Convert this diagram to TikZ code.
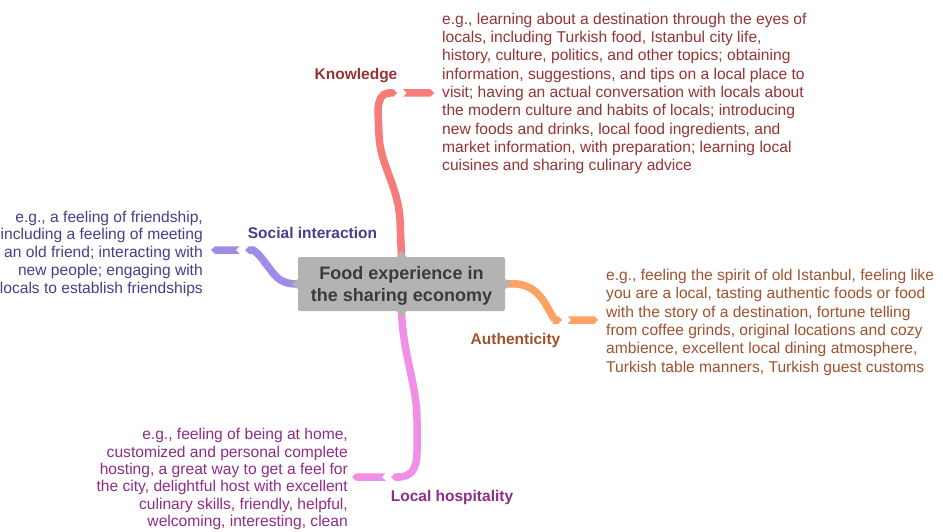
\documentclass[tikz,border=0pt]{standalone}
\usepackage{fontspec}
\setmainfont{Liberation Sans}
\usetikzlibrary{calc}
\usetikzlibrary{arrows.meta}

\definecolor{knowbranch}{HTML}{F77B78}
\definecolor{knowtext}{HTML}{963333}
\definecolor{socbranch}{HTML}{A08CE6}
\definecolor{soctext}{HTML}{483D8B}
\definecolor{authbranch}{HTML}{FBA264}
\definecolor{authtext}{HTML}{A0522D}
\definecolor{hospbranch}{HTML}{F08FE6}
\definecolor{hosptext}{HTML}{8E2C88}
\definecolor{hubfill}{HTML}{B3B3B3}
\definecolor{hubtext}{HTML}{3B3B3B}

\tikzset{
  desc/.style={inner sep=0pt, font=\fontsize{15.6}{#1}\selectfont},
  desc/.default=18.3,
  topic/.style={inner sep=0pt, anchor=base, font=\bfseries\fontsize{15.5}{18}\selectfont},
  branch/.style={line width=7.5pt, -{Triangle Cap[]}},
}

% tail of a branch, from #2 to #3, with a notch at #2 and a point at #3
\newcommand{\branchtail}[3]{%
  \fill[#1] let \p1=(#2), \p2=(#3), \n1={sign(\x2-\x1)*3.75} in
    (\x1,\y1+3.75pt) -- (\x2-\n1,\y1+3.75pt) -- (\x2,\y2) -- (\x2-\n1,\y2-3.75pt)
    -- (\x1,\y1-3.75pt) -- (\x1+\n1,\y1) -- cycle;}

\begin{document}
\begin{tikzpicture}[x=1pt, y=-1pt]
    \useasboundingbox (0,0) rectangle (943,532);

    \node[rectangle, rounded corners=2pt, fill=hubfill, text=hubtext, minimum width=207pt, minimum height=54pt,
          align=center, font=\bfseries\fontsize{18}{22}\selectfont] (hub) at (401.5,284)
          {\rule{0pt}{17pt}Food experience in\\the sharing economy};

    \coordinate (kn-c) at (397,93);
    \coordinate (kn-t) at (403,93);
    \coordinate (kn-e) at (434,93);
    \coordinate (soc-c) at (245,250);
    \coordinate (soc-t) at (239.5,250);
    \coordinate (soc-e) at (211,250);
    \coordinate (au-c) at (562,320);
    \coordinate (au-t) at (567.5,320);
    \coordinate (au-e) at (598,320);
    \coordinate (hosp-c) at (391,477);
    \coordinate (hosp-t) at (385.5,477);
    \coordinate (hosp-e) at (352,477);

    \draw[branch, knowbranch] (hub.north) -- (400,220) .. controls (398,185) and (380,165) .. (379,135)
        -- (378,112) .. controls (378,98) and (383,93) .. (kn-c);
    \branchtail{knowbranch}{kn-t}{kn-e}
    \draw[branch, socbranch] (hub.west) .. controls (278,284) and (275,275) .. (266,264)
        .. controls (259,254) and (254,250) .. (soc-c);
    \branchtail{socbranch}{soc-t}{soc-e}
    \draw[branch, authbranch] (hub.east) .. controls (528,282) and (537,291) .. (545,303)
        .. controls (551,314) and (555,320) .. (au-c);
    \branchtail{authbranch}{au-t}{au-e}
    \draw[branch, hospbranch] (hub.south) .. controls (403,355) and (417,385) .. (417,420)
        -- (417,452) .. controls (417,470) and (410,477) .. (hosp-c);
    \branchtail{hospbranch}{hosp-t}{hosp-e}

    % small points of the hub
    \fill[hubfill] ($(hub.north)+(-5,0)$) -- ($(hub.north)+(0,-6)$) -- ($(hub.north)+(5,0)$) -- cycle;
    \fill[hubfill] ($(hub.south)+(-5,0)$) -- ($(hub.south)+(0,6)$) -- ($(hub.south)+(5,0)$) -- cycle;
    \fill[hubfill] ($(hub.west)+(0,-5)$) -- ($(hub.west)+(-6,0)$) -- ($(hub.west)+(0,5)$) -- cycle;
    \fill[hubfill] ($(hub.east)+(0,-5)$) -- ($(hub.east)+(6,0)$) -- ($(hub.east)+(0,5)$) -- cycle;

    \node[topic, text=knowtext] (know) at (356,79.5) {Knowledge};
    \node[topic, text=soctext] (soc) at (312.5,238.5) {Social interaction};
    \node[topic, text=authtext] (auth) at (515.5,344.8) {Authenticity};
    \node[topic, text=hosptext] (hosp) at (452,501.6) {Local hospitality};

    \node[desc, text=knowtext, align=left, anchor=north west] (know-txt) at (442,12.8)
        {e.g., learning about a destination through the eyes of\\
         locals, including Turkish food, Istanbul city life,\\
         history, culture, politics, and other topics; obtaining\\
         information, suggestions, and tips on a local place to\\
         visit; having an actual conversation with locals about\\
         the modern culture and habits of locals; introducing\\
         new foods and drinks, local food ingredients, and\\
         market information, with preparation; learning local\\
         cuisines and sharing culinary advice};
    \node[desc=17.75, text=soctext, align=right, anchor=north east] (soc-txt) at (203,210.6)
        {e.g., a feeling of friendship,\\
         including a feeling of meeting\\
         an old friend; interacting with\\
         new people; engaging with\\
         locals to establish friendships};
    \node[desc, text=authtext, align=left, anchor=north west] (auth-txt) at (606,269.1)
        {e.g., feeling the spirit of old Istanbul, feeling like\\
         you are a local, tasting authentic foods or food\\
         with the story of a destination, fortune telling\\
         from coffee grinds, original locations and cozy\\
         ambience, excellent local dining atmosphere,\\
         Turkish table manners, Turkish guest customs};
    \node[desc=17.3, text=hosptext, align=right, anchor=north east] (hosp-txt) at (348,428.3)
        {e.g., feeling of being at home,\\
         customized and personal complete\\
         hosting, a great way to get a feel for\\
         the city, delightful host with excellent\\
         culinary skills, friendly, helpful,\\
         welcoming, interesting, clean};
\end{tikzpicture}
\end{document}
